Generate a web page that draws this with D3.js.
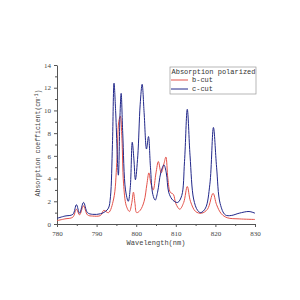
<!DOCTYPE html>
<html>
<head>
<meta charset="utf-8">
<script src="https://cdn.jsdelivr.net/npm/d3@7"></script>
<style>
  body { margin: 0; background: #fff; }
  .axis path, .axis line { stroke: #555; }
  .axis text { font-family: "Liberation Serif", serif; font-size: 7px; fill: #444; }
</style>
</head>
<body>
<div id="chart"></div>
<script>
// chart data (wavelength nm, absorption cm^-1)
var cutB = [
  [780,0.3],[782,0.45],[784,0.6],[784.9,1.3],[785.7,0.8],[786.7,1.6],[787.7,0.8],[789,0.7],
  [791,0.75],[791.8,1.2],[793,1.0],[794.3,2.2],[795.1,5.4],[795.6,9],[796,9.5],[796.4,7.5],
  [796.8,3.6],[797.5,1.6],[798.3,1.1],[798.9,1.9],[799.3,2.8],[799.7,1.8],[800.1,1.0],
  [801,1.2],[802,2.0],[802.7,3.5],[803.2,4.5],[803.7,3.6],[804.3,3.0],[805,4.5],[805.6,5.5],
  [806.3,4.5],[807,5.3],[807.5,5.9],[808,4],[808.6,2.8],[809.4,2.6],[810,1.8],[811,1.3],
  [812,1.9],[812.9,3.3],[813.7,2.0],[815,1.1],[816.5,0.95],[818,1.3],[819.4,2.7],[820.3,1.7],
  [821.5,0.9],[823,0.55],[826,0.45],[830,0.4]
];
var cutC = [
  [780,0.5],[782,0.7],[784,0.85],[784.9,1.7],[785.7,0.95],[786.7,1.9],[787.7,1.0],[789,0.85],
  [791,0.9],[792.2,1.1],[793,1.4],[793.5,2.4],[794,7],[794.4,12.4],[794.8,10],[795.5,4.3],
  [795.9,9.5],[796.2,11.5],[796.6,8],[797.3,3],[798,2.0],[798.5,3.2],[799,7.2],[799.4,5.8],
  [799.8,3.9],[800.4,6],[801,10.5],[801.5,12.3],[802,9.8],[802.6,6.6],[803.1,7.7],[803.6,5],
  [804.2,2.6],[804.8,2.1],[805.4,2.8],[806.2,4.5],[807,5.2],[807.6,4.5],[808.2,2.8],[809,2.2],
  [809.6,2.0],[810.5,1.9],[811.5,2.5],[812.2,5.5],[812.9,10.1],[813.6,6],[814.5,2.2],
  [815.5,1.2],[816.3,1.0],[817.5,1.4],[818.6,3.5],[819.5,8.5],[820.3,5],[821.2,1.8],
  [822.5,0.8],[824,0.75],[826,0.95],[828.5,1.1],[830,0.95]
];
var xTicks = [780, 790, 800, 810, 820, 830];
var yTicks = [0, 2, 4, 6, 8, 10, 12, 14];
var seriesNames = ["b-cut", "c-cut"];
var seriesColors = ["#e4524a", "#22288a"];

var w = 300, h = 300;

var svg = d3.select("#chart")
  .append("svg")
  .attr("width", w)
  .attr("height", h);

var xScale = d3.scaleLinear().domain([780, 830]).range([57, 255]);
var yScale = d3.scaleLinear().domain([0, 14]).range([224, 65]);

// minor ticks first, then major ones
svg.append("g")
  .attr("class", "axis")
  .attr("transform", "translate(0,224)")
  .call(d3.axisBottom(xScale).tickValues(d3.range(785, 830, 10)).tickSize(2).tickFormat(""))
  .call(g => g.select(".domain").remove());
svg.append("g")
  .attr("class", "axis")
  .attr("transform", "translate(0,224)")
  .call(d3.axisBottom(xScale).tickValues(xTicks).tickSize(3).tickSizeOuter(0).tickPadding(4));

svg.append("g")
  .attr("class", "axis")
  .attr("transform", "translate(57,0)")
  .call(d3.axisLeft(yScale).tickValues(d3.range(1, 14, 2)).tickSize(2).tickFormat(""))
  .call(g => g.select(".domain").remove());
svg.append("g")
  .attr("class", "axis")
  .attr("transform", "translate(57,0)")
  .call(d3.axisLeft(yScale).tickValues(yTicks).tickSize(3).tickSizeOuter(0).tickPadding(3));

// axis titles
svg.append("text")
  .attr("x", 156)
  .attr("y", 245)
  .attr("text-anchor", "middle")
  .style("font-family", "Liberation Mono, monospace")
  .style("font-size", "7px")
  .style("fill", "#444")
  .text("Wavelength(nm)");

var yLabel = svg.append("text")
  .attr("transform", "translate(40,143) rotate(-90)")
  .attr("text-anchor", "middle")
  .style("font-family", "Liberation Mono, monospace")
  .style("font-size", "6.5px")
  .style("fill", "#444");
yLabel.append("tspan").text("Absorption coefficient(cm");
yLabel.append("tspan").attr("dy", -2.5).style("font-size", "4.5px").text("-1");
yLabel.append("tspan").attr("dy", 2.5).text(")");

// spectra
var line = d3.line()
  .x(d => xScale(d[0]))
  .y(d => yScale(d[1]))
  .curve(d3.curveCatmullRom.alpha(0.5));

[cutB, cutC].forEach(function(data, i) {
  svg.append("path")
    .datum(data)
    .attr("fill", "none")
    .attr("stroke", seriesColors[i])
    .attr("stroke-width", 1)
    .attr("d", line);
});

// legend
var legend = svg.append("g").attr("transform", "translate(170,67)");
legend.append("rect")
  .attr("width", 86)
  .attr("height", 27)
  .attr("fill", "#fff")
  .attr("stroke", "#999")
  .attr("stroke-width", 0.7);
legend.append("text")
  .attr("x", 1.5)
  .attr("y", 7)
  .style("font-family", "Liberation Mono, monospace")
  .style("font-size", "7px")
  .style("fill", "#333")
  .text("Absorption polarized");
seriesNames.forEach(function(name, i) {
  var y = 13 + i * 9;
  legend.append("line")
    .attr("x1", 1).attr("x2", 18)
    .attr("y1", y).attr("y2", y)
    .attr("stroke", seriesColors[i])
    .attr("stroke-width", 1);
  legend.append("text")
    .attr("x", 22)
    .attr("y", y + 2)
    .style("font-family", "Liberation Mono, monospace")
    .style("font-size", "7px")
    .style("fill", "#333")
    .text(name);
});
</script>
</body>
</html>
